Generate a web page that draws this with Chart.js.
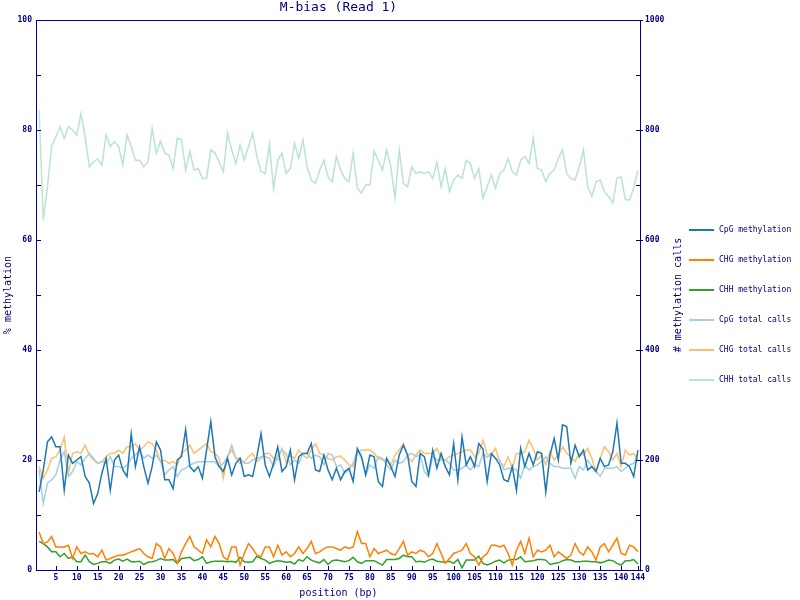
<!DOCTYPE html>
<html>
<head>
<meta charset="utf-8">
<title>M-bias (Read 1)</title>
<script src="https://cdn.jsdelivr.net/npm/chart.js"></script>
<style>
  html, body { margin: 0; padding: 0; background: #fff; }
</style>
</head>
<body>
<canvas id="mbias" width="800" height="600"></canvas>
<script>
  // positions along the read (bp)
  const positions = Array.from({ length: 144 }, (_, i) => i + 1);

  // % methylation (left axis)
  const cpgMeth = [14.2,18.2,23.3,24.2,22.4,22.4,14.5,20.9,19.4,20.0, 20.6,17.0,15.8,12.1,13.9,17.6,20.3,14.5,20.0,20.9,
    18.2,17.0,24.8,18.8,22.4,18.8,15.8,18.8,23.3,21.8, 16.4,16.4,14.8,20.0,20.6,25.5,18.8,17.9,18.8,16.7,
    21.8,27.0,20.6,18.8,17.9,20.3,17.3,19.4,20.3,17.0, 17.3,17.0,20.6,24.8,19.1,17.0,19.4,22.4,17.9,18.8,
    21.8,16.4,20.6,21.2,21.2,23.0,18.2,17.9,20.9,18.2, 16.4,18.5,16.4,17.9,18.5,16.1,22.1,20.6,17.3,20.9,
    20.6,16.1,15.2,20.3,18.8,17.0,20.9,22.7,20.9,16.1, 15.2,21.2,20.6,17.3,21.8,18.5,21.2,18.8,17.3,23.0,
    16.4,24.2,19.1,20.6,18.8,23.0,22.0,16.1,21.2,20.3, 19.1,16.4,16.1,18.8,14.5,22.1,18.8,21.2,19.1,21.5,
    21.2,14.2,20.9,23.9,20.0,26.4,26.1,19.4,22.7,20.6, 21.8,18.2,18.8,17.9,20.3,18.8,19.1,21.5,26.7,19.4,
    19.4,18.8,17.0,21.8];
  const chgMeth = [6.9,4.8,5.1,6.1,4.2,4.2,4.2,4.5,2.1,4.2, 3.0,3.3,2.9,3.0,2.4,3.6,1.8,2.1,2.4,2.7,
    2.7,3.0,3.3,3.6,3.9,3.0,2.4,2.1,4.8,4.2, 2.1,3.9,3.0,1.2,3.3,4.8,6.1,4.2,3.6,3.0,
    5.5,4.2,6.1,4.8,2.4,1.8,4.2,4.2,0.9,3.0, 4.8,3.9,2.7,2.4,4.2,4.2,2.4,4.5,2.7,3.3,
    2.4,3.0,4.2,3.0,3.9,5.2,3.0,3.3,3.9,4.2, 4.2,3.9,3.6,4.2,3.9,4.2,7.0,4.8,4.8,2.4,
    3.9,3.0,3.3,3.6,3.0,2.7,3.9,5.2,2.7,3.3, 3.0,3.6,3.3,2.4,3.0,4.8,3.0,1.2,2.1,3.0,
    3.3,3.6,4.8,3.0,2.4,0.9,2.4,3.0,4.5,4.5, 4.2,4.5,3.0,0.9,3.6,5.2,3.0,5.8,2.4,3.6,
    3.3,3.6,4.5,2.4,3.3,2.7,2.1,2.7,4.8,3.3, 2.7,4.2,3.3,1.8,4.2,4.8,3.3,4.5,5.8,3.0,
    2.7,4.5,4.2,3.3];
  const chhMeth = [5.2,4.8,4.2,3.3,3.3,2.4,3.0,2.1,2.4,1.5, 1.5,2.7,1.5,1.0,1.2,1.5,1.5,1.2,1.8,2.0,
    1.6,2.0,1.5,1.5,1.6,1.0,1.4,1.5,1.7,2.1, 1.8,1.8,1.9,1.2,2.1,2.2,2.3,1.7,1.9,2.4,
    1.2,1.5,1.6,1.6,1.6,1.5,1.6,1.4,2.3,1.5, 1.4,1.5,2.5,2.1,1.8,1.2,1.5,1.7,1.6,1.4,
    1.5,1.1,1.9,1.6,2.4,1.8,1.5,1.3,1.9,1.0, 1.7,1.8,1.7,1.5,1.7,2.3,1.5,1.2,1.7,1.7,
    1.7,1.3,0.9,1.9,1.9,1.9,2.1,2.7,2.4,2.4, 1.5,1.6,1.4,1.8,2.0,1.6,1.5,1.4,1.6,1.2,
    1.9,0.4,1.8,1.8,1.8,2.5,1.2,0.9,1.2,1.6, 1.8,1.3,1.8,1.9,1.9,2.4,1.5,1.6,1.7,1.9,
    1.9,1.8,1.0,1.2,1.3,1.7,1.9,1.8,1.5,1.5, 1.6,1.6,1.5,1.5,1.3,1.5,1.8,1.7,1.2,0.9,
    1.7,1.7,1.9,1.1];

  // # methylation calls (right axis)
  const cpgCalls = [182,121,158,164,173,200,215,170,179,197, 191,203,212,203,194,197,194,206,188,188,
    185,191,203,209,218,203,209,203,209,197, 173,182,188,170,182,185,191,194,197,197,
    197,197,197,188,194,206,227,203,203,194, 194,200,203,206,206,203,188,209,218,212,
    191,200,194,212,212,203,209,206,191,212, 209,188,191,176,182,194,218,203,173,191,
    185,206,203,191,182,200,194,197,209,212, 206,209,179,170,206,200,200,200,194,182,
    182,185,191,182,191,188,212,205,210,203, 200,182,185,185,182,167,191,182,188,191,
    197,206,194,188,188,185,185,185,167,188, 182,200,188,179,170,185,185,185,188,179,
    185,191,194,212];
  const chgCalls = [188,167,182,203,206,218,242,176,212,215, 212,227,209,200,194,197,206,212,212,218,
    212,224,224,230,218,224,233,230,218,197, 200,194,197,191,212,218,227,212,218,224,
    230,215,212,203,167,206,218,203,194,197, 206,212,197,203,212,212,203,200,221,197,
    209,203,218,209,203,218,230,212,209,203, 200,206,207,200,191,188,212,218,218,218,
    212,203,200,200,191,209,218,230,206,197, 209,218,212,212,212,221,203,200,206,209,
    212,215,218,218,206,212,236,210,210,221, 197,188,206,185,212,212,215,236,221,200,
    209,191,215,200,209,224,212,206,197,212, 209,221,203,179,203,224,215,200,212,188,
    218,209,212,200];
  const chhCalls = [836,636,697,770,788,806,785,806,800,791, 830,788,733,742,747,736,791,770,779,770,
    736,791,770,745,745,733,742,803,758,779, 758,755,730,785,782,727,761,727,730,712,
    712,764,758,742,724,794,764,739,773,745, 770,794,752,724,721,773,694,745,758,721,
    730,776,748,782,733,709,703,727,745,715, 706,752,727,712,706,758,694,685,700,700,
    761,745,727,764,733,676,764,703,697,733, 721,724,721,724,712,742,697,730,688,709,
    718,712,745,739,712,730,676,697,718,694, 721,727,748,724,718,745,752,739,785,730,
    727,706,721,727,748,764,721,712,709,733, 764,697,679,706,709,688,679,667,712,715,
    673,673,694,727];

  // tick labels
  const leftTicks = [0, 20, 40, 60, 80, 100];
  const rightTicks = [0, 200, 400, 600, 800, 1000];
  const minorTicks = [10, 20, 30, 40, 50, 60, 70, 80, 90];   // in % (= 100 calls each)
  const xLabelled = [5,10,15,20,25,30,35,40,45,50,55,60,65,70,75,80,85,90,95,100,105,110,115,120,125,130,135,140,144];

  const NAVY = '#000080';
  const MONO = '"DejaVu Sans Mono", monospace';
  const TICK_FONT = { family: MONO, size: 8, weight: 'bold' };

  const series = [
    { label: 'CpG methylation',  data: cpgMeth,  color: '#1f78b4', axis: 'y' },
    { label: 'CHG methylation',  data: chgMeth,  color: '#ff7f00', axis: 'y' },
    { label: 'CHH methylation',  data: chhMeth,  color: '#33a02c', axis: 'y' },
    { label: 'CpG total calls',  data: cpgCalls, color: '#a6cee3', axis: 'y1' },
    { label: 'CHG total calls',  data: chgCalls, color: '#fdbf6f', axis: 'y1' },
    { label: 'CHH total calls',  data: chhCalls, color: '#b9e4cf', axis: 'y1' }
  ];

  // frame, inward ticks, title, right axis title and legend
  const decorations = {
    id: 'decorations',
    afterDraw(chart) {
      const { ctx, chartArea: a, scales } = chart;
      ctx.save();
      ctx.strokeStyle = NAVY;
      ctx.lineWidth = 1;
      ctx.strokeRect(a.left - 0.5, a.top + 0.5, a.right - a.left + 1, a.bottom - a.top);

      ctx.beginPath();
      minorTicks.forEach(v => {
        const py = Math.round(scales.y.getPixelForValue(v)) + 0.5;
        ctx.moveTo(a.left, py); ctx.lineTo(a.left + 4, py);
        ctx.moveTo(a.right, py); ctx.lineTo(a.right - 4, py);
      });
      rightTicks.forEach(v => {
        const py = Math.round(scales.y1.getPixelForValue(v)) + 0.5;
        ctx.moveTo(a.right + 1, py); ctx.lineTo(a.right + 3, py);
      });
      xLabelled.forEach(p => {
        const px = Math.round(scales.x.getPixelForValue(positions.indexOf(p))) + 0.5;
        ctx.moveTo(px, a.bottom); ctx.lineTo(px, a.bottom - 4);
      });
      ctx.stroke();

      ctx.fillStyle = NAVY;
      ctx.textAlign = 'center';
      ctx.textBaseline = 'middle';
      ctx.font = '13px ' + MONO;
      ctx.fillText('M-bias (Read 1)', (a.left + a.right) / 2, 8);

      ctx.save();
      ctx.translate(678, (a.top + a.bottom) / 2);
      ctx.rotate(-Math.PI / 2);
      ctx.font = '10px ' + MONO;
      ctx.fillText('# methylation calls', 0, 0);
      ctx.restore();

      ctx.textAlign = 'left';
      ctx.font = '8px ' + MONO;
      series.forEach((s, i) => {
        const y = 230 + i * 30;
        ctx.strokeStyle = s.color;
        ctx.lineWidth = 2;
        ctx.beginPath();
        ctx.moveTo(689, y); ctx.lineTo(714, y);
        ctx.stroke();
        ctx.fillText(s.label, 719, y);
      });
      ctx.restore();
    }
  };

  new Chart(document.getElementById('mbias'), {
    type: 'line',
    data: {
      labels: positions,
      datasets: series.map(s => ({
        label: s.label,
        data: s.data,
        yAxisID: s.axis,
        borderColor: s.color,
        backgroundColor: s.color,
        borderWidth: 1.5,
        pointRadius: 0,
        tension: 0,
        fill: false
      }))
    },
    options: {
      responsive: false,
      animation: false,
      devicePixelRatio: 1,
      layout: { padding: { top: 20, left: 0, right: 0, bottom: 0 } },
      plugins: {
        legend: { display: false },
        title: { display: false },
        tooltip: { enabled: false }
      },
      scales: {
        x: {
          type: 'category',
          offset: true,
          grid: { display: false, drawTicks: false },
          border: { display: false },
          ticks: {
            autoSkip: false, maxRotation: 0, minRotation: 0,
            color: NAVY, font: TICK_FONT, padding: 3,
            callback: (v, i) => xLabelled.includes(positions[i]) ? String(positions[i]) : ''
          },
          title: { display: true, text: 'position (bp)', color: NAVY,
                   font: { family: MONO, size: 10 }, padding: { top: 0, bottom: 1 } },
          afterFit: s => { s.height = 30; }
        },
        y: {
          position: 'left',
          min: 0, max: 100,
          grid: { display: false, drawTicks: false },
          border: { display: false },
          ticks: { color: NAVY, font: TICK_FONT, padding: 5,
                   callback: v => String(v) },
          afterBuildTicks: s => { s.ticks = leftTicks.map(v => ({ value: v })); },
          title: { display: true, text: '% methylation', color: NAVY,
                   font: { family: MONO, size: 10 }, padding: { top: 2, bottom: 0 } },
          afterFit: s => { s.width = 37; }
        },
        y1: {
          position: 'right',
          min: 0, max: 1000,
          grid: { display: false, drawTicks: false },
          border: { display: false },
          ticks: { color: NAVY, font: TICK_FONT, padding: 5,
                   callback: v => String(v) },
          afterBuildTicks: s => { s.ticks = rightTicks.map(v => ({ value: v })); },
          afterFit: s => { s.width = 160; }
        }
      }
    },
    plugins: [decorations]
  });
</script>
</body>
</html>
